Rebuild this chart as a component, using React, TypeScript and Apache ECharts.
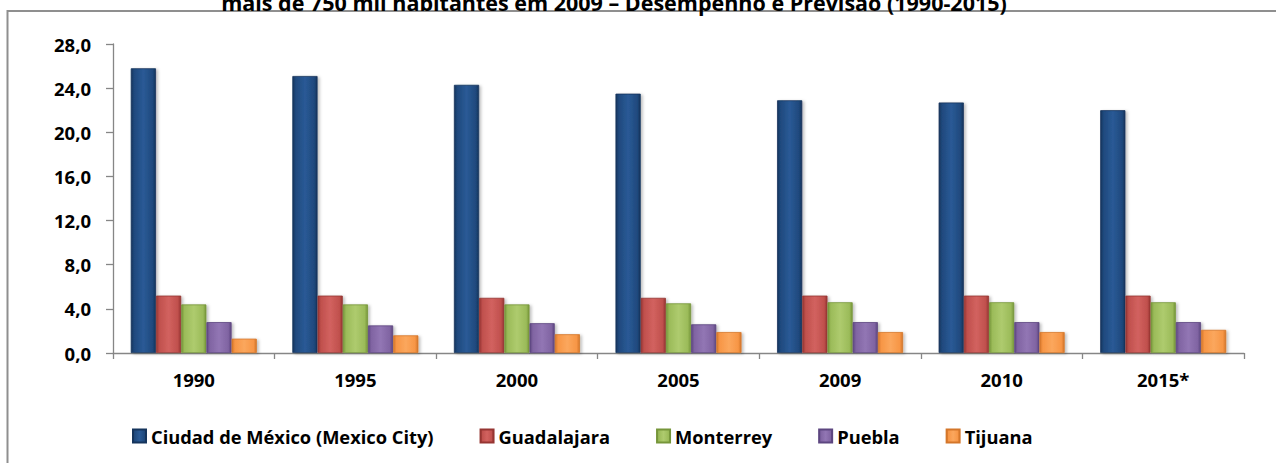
import React, { useEffect, useRef } from "react";
import * as echarts from "echarts";

const categories = ["1990", "1995", "2000", "2005", "2009", "2010", "2015*"];
const seriesNames = [
  "Ciudad de México (Mexico City)",
  "Guadalajara",
  "Monterrey",
  "Puebla",
  "Tijuana",
];
const mexicoCity = [25.8, 25.1, 24.3, 23.5, 22.9, 22.7, 22.0];
const guadalajara = [5.2, 5.2, 5.0, 5.0, 5.2, 5.2, 5.2];
const monterrey = [4.4, 4.4, 4.4, 4.5, 4.6, 4.6, 4.6];
const puebla = [2.8, 2.5, 2.7, 2.6, 2.8, 2.8, 2.8];
const tijuana = [1.3, 1.6, 1.7, 1.9, 1.9, 1.9, 2.1];
const yTicks = { min: 0, max: 28, interval: 4 };
const titleText = "mais de 750 mil habitantes em 2009 – Desempenho e Previsão (1990-2015)";

const palette = [
  { base: "#1F497D", edge: "#15345c", light: "#2a5a96" },
  { base: "#C0504D", edge: "#963532", light: "#d2625f" },
  { base: "#9BBB59", edge: "#76963a", light: "#aecb6e" },
  { base: "#8064A2", edge: "#5d4680", light: "#9276b4" },
  { base: "#F79646", edge: "#d4762a", light: "#fba75d" },
];

const FONT = "'Open Sans', 'DejaVu Sans', sans-serif";

export default function App() {
  const ref = useRef<HTMLDivElement>(null);
  useEffect(() => {
    if (!ref.current) return;
    const chart = echarts.init(ref.current, undefined, { renderer: "svg" });
    const data = [mexicoCity, guadalajara, monterrey, puebla, tijuana];
    const series = data.map((d, i) => ({
      name: seriesNames[i],
      type: "bar" as const,
      data: d,
      barGap: "0%",
      barCategoryGap: "22%",
      itemStyle: {
        color: new echarts.graphic.LinearGradient(0, 0, 1, 0, [
          { offset: 0, color: palette[i].edge },
          { offset: 0.12, color: palette[i].base },
          { offset: 0.5, color: palette[i].light },
          { offset: 0.88, color: palette[i].base },
          { offset: 1, color: palette[i].edge },
        ]),
        borderColor: palette[i].edge,
        borderWidth: 0.8,
        shadowBlur: 3,
        shadowOffsetX: 2,
        shadowOffsetY: 1,
        shadowColor: "rgba(0,0,0,0.25)",
      },
      emphasis: { disabled: true },
    }));
    chart.setOption({
      animation: false,
      color: palette.map((p) => p.base),
      textStyle: { fontFamily: FONT },
      graphic: [
        {
          type: "rect",
          shape: { x: 7.5, y: 11, width: 1300, height: 520 },
          style: { fill: "none", stroke: "#8f8f8f", lineWidth: 2 },
          z: 0,
        },
        {
          type: "text",
          x: 614,
          y: 13,
          style: {
            text: titleText,
            fontFamily: FONT,
            fontWeight: "bold",
            fontSize: 21.5,
            fill: "#000",
            textAlign: "center",
            textVerticalAlign: "bottom",
          },
          z: 10,
        },
      ],
      grid: { left: 113, right: 32, top: 44, bottom: 110, containLabel: false },
      legend: {
        left: 127,
        top: 422,
        itemWidth: 13,
        itemHeight: 13,
        itemGap: 46,
        icon: "rect",
        textStyle: { fontFamily: FONT, fontWeight: "bold", fontSize: 18.3, color: "#000" },
        data: seriesNames,
      },
      xAxis: {
        type: "category",
        data: categories,
        axisLine: { lineStyle: { color: "#868686", width: 1.3 } },
        axisTick: { show: true, length: 6, lineStyle: { color: "#868686", width: 1.3 } },
        axisLabel: {
          margin: 17,
          fontFamily: FONT,
          fontWeight: "bold",
          fontSize: 18.5,
          color: "#000",
        },
      },
      yAxis: {
        type: "value",
        min: yTicks.min,
        max: yTicks.max,
        interval: yTicks.interval,
        splitLine: { show: false },
        axisLine: { show: true, lineStyle: { color: "#868686", width: 1.3 } },
        axisTick: { show: true, length: 7, lineStyle: { color: "#868686", width: 1.3 } },
        axisLabel: {
          margin: 22,
          fontFamily: FONT,
          fontWeight: "bold",
          fontSize: 18.5,
          color: "#000",
          formatter: (v: number) => v.toFixed(1).replace(".", ","),
        },
      },
      series,
    });
    return () => chart.dispose();
  }, []);
  return (
    <div
      ref={ref}
      style={{ position: "fixed", left: 0, top: 0, width: 1276, height: 463, background: "#fff" }}
    />
  );
}
